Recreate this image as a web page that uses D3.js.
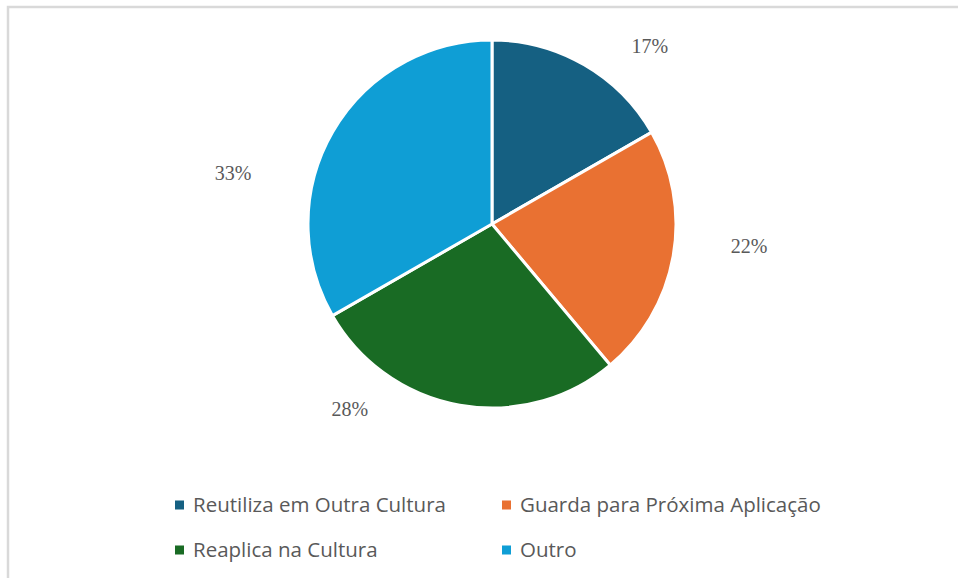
<!DOCTYPE html>
<html>
<head>
<meta charset="utf-8">
<script src="https://cdn.jsdelivr.net/npm/d3@7"></script>
<style>
  html, body { margin: 0; padding: 0; background: #fff; }
  svg { display: block; }
</style>
</head>
<body>
<div id="chart"></div>
<script>
const categories = [
  "Reutiliza em Outra Cultura",
  "Guarda para Próxima Aplicação",
  "Reaplica na Cultura",
  "Outro"
];
const shares = [16.7, 22.2, 27.8, 33.3];
const colors = ["#156082", "#e97132", "#196b24", "#0f9ed5"];

const width = 958, height = 578;
const cx = 492, cy = 224, radius = 184;

const svg = d3.select("#chart").append("svg")
  .attr("width", width)
  .attr("height", height);

// chart frame (only top and left edges are visible in the crop)
svg.append("rect")
  .attr("x", 8).attr("y", 7)
  .attr("width", 1200).attr("height", 1200)
  .attr("fill", "#fff")
  .attr("stroke", "#d9d9d9")
  .attr("stroke-width", 2.5);

const data = categories.map((c, i) => ({ name: c, value: shares[i], color: colors[i] }));

const pie = d3.pie().value(d => d.value).sort(null);
const arc = d3.arc().innerRadius(0).outerRadius(radius);
const arcs = pie(data);

const g = svg.append("g").attr("transform", `translate(${cx},${cy})`);

g.selectAll("path.slice")
  .data(arcs)
  .enter()
  .append("path")
  .attr("class", "slice")
  .attr("d", arc)
  .attr("fill", d => d.data.color)
  .attr("stroke", "#fff")
  .attr("stroke-width", 3)
  .attr("stroke-linejoin", "round");

// data labels, placed outside like Excel's best fit
const labelPlace = [
  { da: 0.2, r: 238 },
  { da: -0.09, r: 258 },
  { da: 0.48, r: 233 },
  { da: -0.33, r: 264 }
];

g.selectAll("text.pct")
  .data(arcs)
  .enter()
  .append("text")
  .attr("class", "pct")
  .attr("x", (d, i) => {
    const a = (d.startAngle + d.endAngle) / 2 + labelPlace[i].da;
    return Math.sin(a) * labelPlace[i].r;
  })
  .attr("y", (d, i) => {
    const a = (d.startAngle + d.endAngle) / 2 + labelPlace[i].da;
    return -Math.cos(a) * labelPlace[i].r;
  })
  .attr("text-anchor", "middle")
  .attr("dy", "0.35em")
  .attr("font-family", "'Liberation Serif', 'Times New Roman', serif")
  .attr("font-size", 20)
  .attr("fill", "#595959")
  .text(d => `${Math.round(d.data.value)}%`);

// legend
const legendX = d3.scaleOrdinal().domain([0, 1]).range([175, 502]);
const legendY = d3.scaleOrdinal().domain([0, 1]).range([505, 550]);

const legend = svg.append("g").attr("class", "legend");
const items = legend.selectAll("g.item")
  .data(data)
  .enter()
  .append("g")
  .attr("class", "item")
  .attr("transform", (d, i) => `translate(${legendX(i % 2)},${legendY(Math.floor(i / 2))})`);

items.append("rect")
  .attr("x", 0).attr("y", -4.5)
  .attr("width", 9).attr("height", 9)
  .attr("fill", d => d.color);

items.append("text")
  .attr("x", 18)
  .attr("dy", "0.35em")
  .attr("font-family", "'Open Sans', sans-serif")
  .attr("font-size", 20.5)
  .attr("fill", "#595959")
  .text(d => d.name);
</script>
</body>
</html>
